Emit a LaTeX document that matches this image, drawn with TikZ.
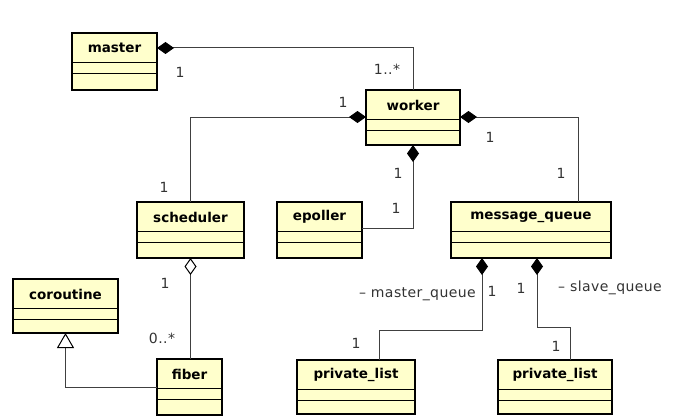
\documentclass[tikz,border=0pt]{standalone}
\usepackage{fontspec}
\setmainfont{DejaVu Sans}
\newfontfamily\lblfont[LetterSpace=3]{DejaVu Sans}
\usetikzlibrary{arrows.meta}
\definecolor{clsfill}{HTML}{FFFFCC}
\newcommand{\umlclass}[6]{%
  \node[clsbox, minimum width={(#4-#2)*1pt}, minimum height={(#5-#3)*1pt}] (#1) at ({(#2+#4)/2},{(#3+#5)/2}) {};
  \node[clsname] (#1-t) at ({(#2+#4)/2},{#3+15}) {#6};
  \draw[divider] (#2,#3+29) -- (#4,#3+29);
  \draw[divider] (#2,#3+40) -- (#4,#3+40);
}
\begin{document}
\begin{tikzpicture}[x=1pt,y=-1pt,
  clsbox/.style={draw=black, line width=2.8pt, fill=clsfill, inner sep=0pt, outer sep=0pt, rectangle},
  clsname/.style={font=\fontsize{13.5}{15}\selectfont\bfseries, inner sep=0pt},
  divider/.style={line width=0.9pt, black},
  conn/.style={draw=black!75, line width=1pt},
  lbl/.style={font=\lblfont\fontsize{14}{16}\selectfont, text=black!80, inner sep=0pt},
  comp/.style={conn, {Diamond[length=17pt,width=12pt,fill=black,color=black]}-},
  aggr/.style={conn, {Diamond[open,length=17pt,width=12pt,fill=white,color=black]}-},
  gen/.style={conn, -{Triangle[open,length=15pt,width=17pt,fill=white,color=black]}},
]
\useasboundingbox (0,0) rectangle (680,420);
\fill[white] (0,0) rectangle (680,420);

\umlclass{master}{72}{33}{157}{90}{master}
\umlclass{worker}{366}{90}{460}{145}{worker}
\umlclass{scheduler}{137}{202}{244}{258}{scheduler}
\umlclass{epoller}{277}{202}{362}{258}{epoller}
\umlclass{mq}{451}{202}{611}{258}{message\_queue}
\umlclass{coroutine}{13}{279}{118}{333}{coroutine}
\umlclass{fiber}{157}{359}{222}{415}{fiber}
\umlclass{plone}{297}{360}{415}{414}{private\_list}
\umlclass{pltwo}{498}{360}{612}{414}{private\_list}

\draw[comp] (master.east |- master-t) -| (worker.north);
\draw[comp] ([yshift=-27pt]worker.north west) -| (scheduler.north);
\draw[comp] ([yshift=-27pt]worker.north east) -| ([xshift=47pt]mq.north);
\draw[comp] (worker.south) |- ([yshift=-26pt]epoller.north east);
\draw[aggr] (scheduler.south) -- (scheduler.south |- fiber.north);
\draw[gen] ([yshift=-28pt]fiber.north west) -| (coroutine.south);
\draw[comp] ([xshift=-49pt]mq.south) |- ([xshift=23pt,yshift=30pt]plone.north) -- ([xshift=23pt]plone.north);
\draw[comp] ([xshift=6pt]mq.south) |- ([xshift=15pt,yshift=33pt]pltwo.north) -- ([xshift=15pt]pltwo.north);

\node[lbl] (m1) at (180,72) {1};
\node[lbl] (m2) at (387,69) {1..*};
\node[lbl] (w1) at (343,102) {1};
\node[lbl] (s1) at (164,187) {1};
\node[lbl] (w2) at (398,173) {1};
\node[lbl] (e1) at (396,208) {1};
\node[lbl] (w3) at (490,137) {1};
\node[lbl] (q1) at (561,173) {1};
\node[lbl] (s2) at (165,283) {1};
\node[lbl] (f1) at (162,338) {0..*};
\node[lbl, anchor=east] (mqn) at (476,294) {– master\_queue};
\node[lbl] (q2) at (492,291) {1};
\node[lbl] (q3) at (521,288) {1};
\node[lbl, anchor=west] (sqn) at (558,288) {– slave\_queue};
\node[lbl] (p1) at (356,343) {1};
\node[lbl] (p2) at (556,346) {1};
\end{tikzpicture}
\end{document}
